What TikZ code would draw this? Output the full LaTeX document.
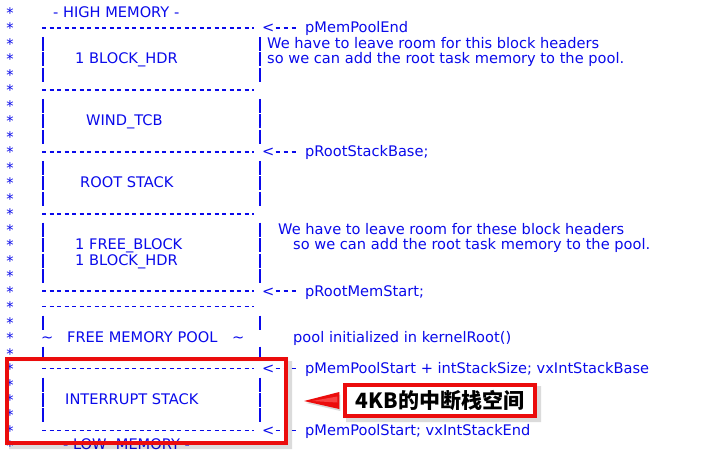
\documentclass[tikz,border=0pt]{standalone}
\usepackage{fontspec}
\setmainfont{DejaVu Sans}
\newfontfamily\cjk{Noto Sans CJK SC}
\usetikzlibrary{calc}
\definecolor{memblue}{RGB}{10,10,235}
\definecolor{boxred}{RGB}{235,12,12}
\newcommand\rowy[1]{12.5+15.48*(#1-1)}
\tikzset{
  txt/.style={font=\fontsize{14.6}{16}\selectfont, text=memblue, inner sep=0pt, anchor=base west},
  star/.style={font=\fontsize{14.6}{16}\selectfont, text=memblue, inner sep=0pt, anchor=base},
  bar/.style={draw=memblue, line width=1.3pt},
  dashrow/.style={draw=memblue, line width=1.7pt, dash pattern=on 4.2pt off 3.3pt},
  arrowdash/.style={draw=memblue, line width=1.7pt, dash pattern=on 4.5pt off 3.5pt},
  redframe/.style={draw=boxred, line width=4pt, inner sep=0pt},
  shadowfill/.style={fill=black, opacity=0.14, even odd rule}
}
\begin{document}
\begin{tikzpicture}[x=1pt,y=-1pt]
\useasboundingbox (0,0) rectangle (701,451);
\clip (0,0) rectangle (701,451);
\fill[white] (0,0) rectangle (701,451);

% asterisks
\foreach \r in {1,...,29}
  \node[star] (s\r) at (10,{\rowy{\r}+6}) {*};

% dashed separators
\foreach \r in {2,6,10,14,19,20,24,28}
  \draw[dashrow] (42,{\rowy{\r}}) -- (254,{\rowy{\r}});

% arrows <---
\foreach \r in {2,10,19,24,28} {
  \node[txt] (a\r) at (262,{\rowy{\r}+5}) {<};
  \draw[arrowdash] (275.5,{\rowy{\r}}) -- (296,{\rowy{\r}});
}

% vertical bars
\foreach \r in {3,4,5,7,8,9,11,12,13,15,16,17,18,21,23,25,26,27} {
  \draw[bar] (43,{\rowy{\r}-6.5}) -- (43,{\rowy{\r}+7.5});
  \draw[bar] (260,{\rowy{\r}-6.5}) -- (260,{\rowy{\r}+7.5});
}

% block labels
\node[txt] (high) at (53,{\rowy{1}+5}) {-\ HIGH MEMORY -};
\node[txt] (bh1) at (75,{\rowy{4}+5}) {1 BLOCK\_HDR};
\node[txt] (tcb) at (86,{\rowy{8}+5}) {WIND\_TCB};
\node[txt] (rs) at (80,{\rowy{12}+5}) {ROOT STACK};
\node[txt] (fb) at (75,{\rowy{16}+5}) {1 FREE\_BLOCK};
\node[txt] (bh2) at (75,{\rowy{17}+5}) {1 BLOCK\_HDR};
\node[txt] (t1) at (41,{\rowy{22}+5}) {\char`\~};
\node[txt] (fmp) at (67,{\rowy{22}+5}) {FREE MEMORY POOL};
\node[txt] (t2) at (232,{\rowy{22}+5}) {\char`\~};
\node[txt] (is) at (65,{\rowy{26}+5}) {INTERRUPT STACK};
\node[txt] (low) at (63,{\rowy{29}+4}) {-\ LOW\ \ MEMORY -};

% right-hand comments
\node[txt] (l2) at (305,{\rowy{2}+5}) {pMemPoolEnd};
\node[txt] (c3) at (267,{\rowy{3}+5}) {We have to leave room for this block headers};
\node[txt] (c4) at (267,{\rowy{4}+5}) {so we can add the root task memory to the pool.};
\node[txt] (l10) at (305,{\rowy{10}+5}) {pRootStackBase;};
\node[txt] (c15) at (278,{\rowy{15}+5}) {We have to leave room for these block headers};
\node[txt] (c16) at (293,{\rowy{16}+5}) {so we can add the root task memory to the pool.};
\node[txt] (l19) at (305,{\rowy{19}+5}) {pRootMemStart;};
\node[txt] (c22) at (293,{\rowy{22}+5}) {pool initialized in kernelRoot()};
\node[txt] (l24) at (305,{\rowy{24}+5}) {pMemPoolStart + intStackSize; vxIntStackBase};
\node[txt] (l28) at (305,{\rowy{28}+5}) {pMemPoolStart; vxIntStackEnd};

% red highlight frame with shadow (outside only)
\fill[shadowfill] (9,361) rectangle (292,449) (5,357) rectangle (288,445);
\node[redframe, minimum width=279pt, minimum height=84pt] (intbox) at (146.5,401) {};

% callout with shadow
\fill[shadowfill] (346,386) rectangle (541,422) (343,383) rectangle (537,418);
\node[redframe, line width=3.5pt, fill=white, minimum width=190pt, minimum height=31pt,
      font=\cjk\bfseries\fontsize{21}{24}\selectfont, text=black] (callout) at (440,400.5) {4KB的中断栈空间};

% pointer triangle
\coordinate (tip) at (304,401);
\fill[black, opacity=0.15] ($(tip)+(2,2)$) -- ($(callout.west)+(-3,-6)$) -- ($(callout.west)+(-3,10.5)$) -- cycle;
\fill[boxred] (tip) -- ($(callout.west)+(-4,-8.5)$) -- ($(callout.west)+(-4,8.5)$) -- cycle;
\fill[red!60!white, opacity=0.6] ($(tip)+(8,0)$) -- ($(callout.west)+(-6,-4)$) -- ($(callout.west)+(-6,2)$) -- cycle;
\end{tikzpicture}
\end{document}
